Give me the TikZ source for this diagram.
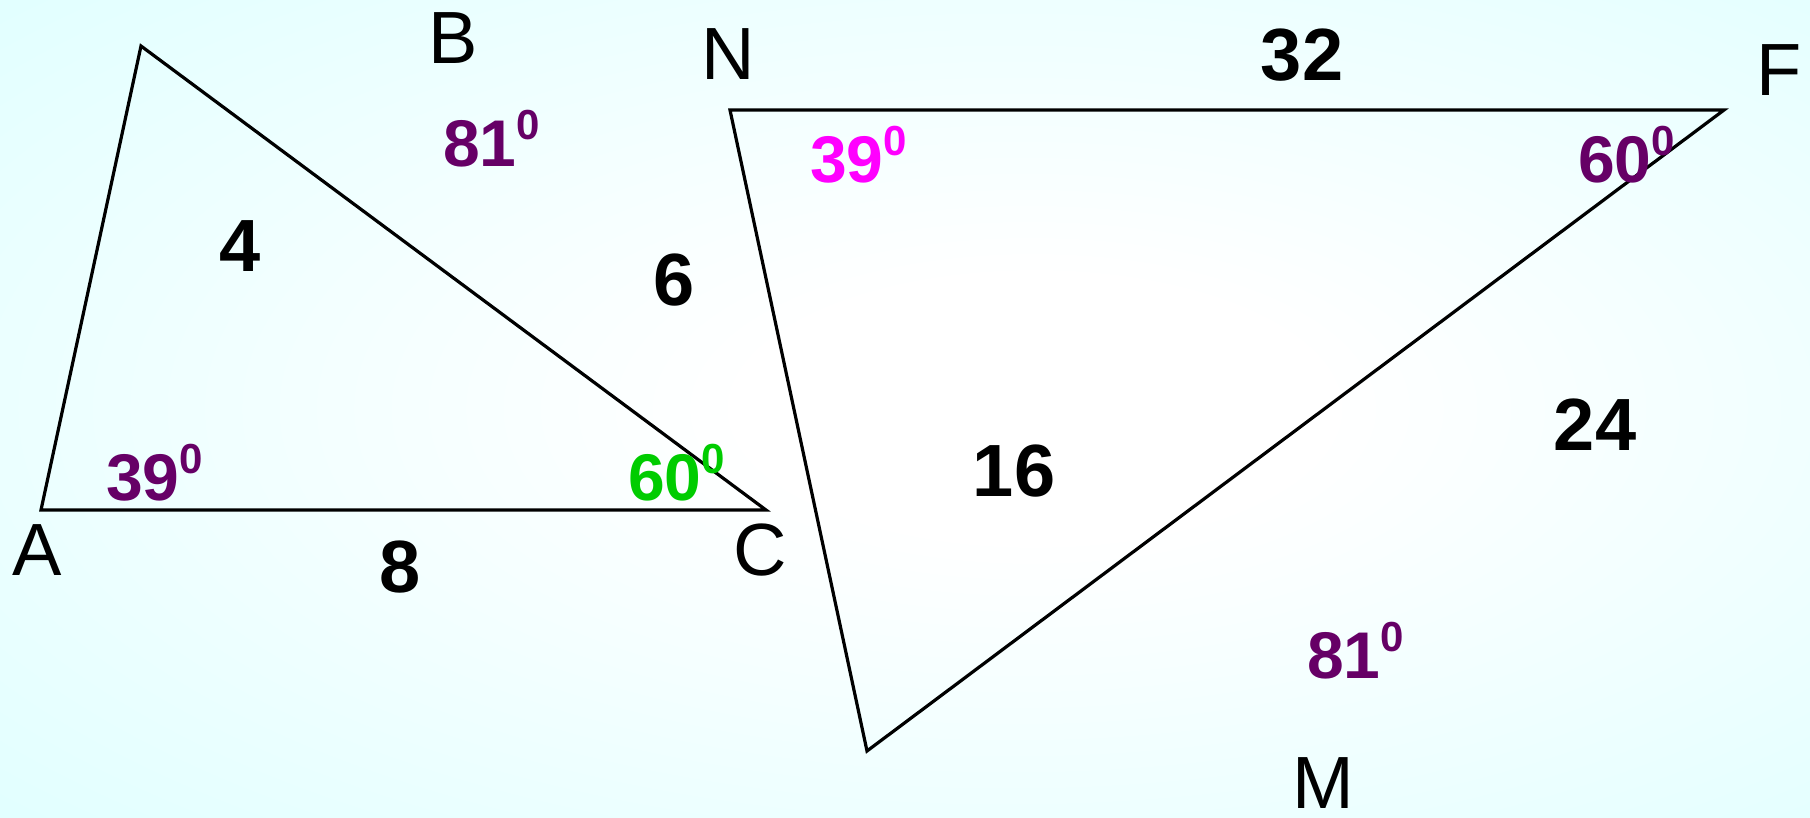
\documentclass[tikz,border=0pt]{standalone}
\usepackage{fontspec}
\setmainfont{Liberation Sans}
\definecolor{bgcyan}{RGB}{200,255,255}
\definecolor{angpurple}{RGB}{102,0,102}
\definecolor{anggreen}{RGB}{0,204,0}
\definecolor{angmagenta}{RGB}{255,0,255}
\pgfdeclareradialshading{bgshade}{\pgfpoint{4bp}{0bp}}{color(0bp)=(white); color(8bp)=(white); color(62bp)=(bgcyan); color(80bp)=(bgcyan)}
\newcommand{\angtxt}[1]{#1\raisebox{27pt}{\fontsize{42}{42}\selectfont\bfseries 0}}
\tikzset{
  tri/.style={line width=3.2pt, line join=miter},
  vlabel/.style={anchor=base, inner sep=0pt, font=\fontsize{74}{74}\selectfont},
  side/.style={anchor=base, inner sep=0pt, font=\fontsize{74}{74}\selectfont\bfseries},
  angle/.style={anchor=base west, inner sep=0pt, xshift=-3pt, font=\fontsize{66}{66}\selectfont\bfseries},
}
\begin{document}
\begin{tikzpicture}[x=1pt,y=-1pt]
\shade[shading=bgshade] (0,0) rectangle (1810,817);
\useasboundingbox (0,0) rectangle (1810,817);
% vertices
\coordinate (A) at (41,510);
\coordinate (B) at (141,46);
\coordinate (C) at (766,510);
\coordinate (N) at (730,110);
\coordinate (F) at (1724,110);
\coordinate (M) at (867,751);
\draw[tri] (A) -- (B) -- (C) -- cycle;
\draw[tri] (N) -- (F) -- (M) -- cycle;
% vertex labels
\node[vlabel] (lA) at (37,575) {A};
\node[vlabel] (lB) at (453,63) {B};
\node[vlabel] (lC) at (760,575) {C};
\node[vlabel] (lN) at (728,79) {N};
\node[vlabel] (lF) at (1779,95) {F};
\node[vlabel] (lM) at (1323,808) {M};
% side lengths
\node[side] (s4) at (240,271) {4};
\node[side] (s6) at (674,305) {6};
\node[side] (s8) at (400,592) {8};
\node[side] (s16) at (1014,496) {16};
\node[side] (s24) at (1595,450) {24};
\node[side] (s32) at (1302,80) {32};
% angles
\node[angle, text=angpurple] (aB) at (446,166) {\angtxt{81}};
\node[angle, text=angpurple] (aA) at (109,500) {\angtxt{39}};
\node[angle, text=anggreen] (aC) at (631,500) {\angtxt{60}};
\node[angle, text=angmagenta] (aN) at (813,182) {\angtxt{39}};
\node[angle, text=angpurple] (aF) at (1581,182) {\angtxt{60}};
\node[angle, text=angpurple] (aM) at (1310,678) {\angtxt{81}};
\end{tikzpicture}
\end{document}
